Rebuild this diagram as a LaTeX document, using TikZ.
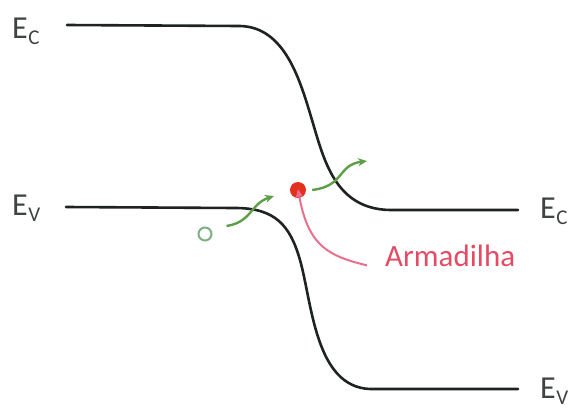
\documentclass[tikz,border=0pt]{standalone}
\usepackage{fontspec}
\setmainfont{Carlito}
\usetikzlibrary{arrows.meta}
\definecolor{bandc}{HTML}{1E2222}
\definecolor{grn}{HTML}{5E9E48}
\definecolor{grnc}{HTML}{7DB083}
\definecolor{trapred}{HTML}{E2321E}
\definecolor{pinkarr}{HTML}{E8708C}
\definecolor{pinktxt}{HTML}{E44C66}
\newcommand{\bandlbl}[1]{E\kern0.5pt\raisebox{-6pt}{\fontsize{21}{21}\selectfont #1}}
\tikzset{
  band/.style={draw=bandc, line width=2.6pt, line cap=round},
  elbl/.style={anchor=base west, inner sep=0pt, text=bandc!85, font=\fontsize{32}{32}\selectfont},
  grarrow/.style={draw=grn, line width=2.4pt, -{Stealth[length=9pt,width=8pt]}},
  pkarrow/.style={draw=pinkarr, line width=2pt, -{Stealth[length=9pt,width=8pt]}}
}
\begin{document}
\begin{tikzpicture}[x=1pt,y=-1pt]
\useasboundingbox (0,0) rectangle (574,410);
% bands
\draw[band] (67,25) -- (240,26) .. controls (285,27) and (300,80) .. (312,120)
  .. controls (324,160) and (335,209) .. (390,210) -- (518,210);
\draw[band] (66,207) -- (235,208) .. controls (275,208) and (290,225) .. (300,260)
  .. controls (312,302) and (315,387) .. (370,389) -- (518,389);
% labels
\node[elbl] (ecl) at (12,38) {\bandlbl{C}};
\node[elbl] (evl) at (12,215) {\bandlbl{V}};
\node[elbl] (ecr) at (540,218) {\bandlbl{C}};
\node[elbl] (evr) at (540,398) {\bandlbl{V}};
% hole and trap
\node[circle, draw=grnc, line width=2pt, minimum size=13pt, inner sep=0pt] (hole) at (205,234) {};
\node[circle, fill=trapred, minimum size=16pt, inner sep=0pt] (trap) at (298,190) {};
\coordinate (g1) at (274,196);
\coordinate (g2) at (367,161);
\draw[grarrow] ([xshift=14pt,yshift=8pt]hole.east) .. controls (252,222) and (250,204) .. (g1);
\draw[grarrow] ([xshift=6pt]trap.east) .. controls (345,186) and (337,165) .. (g2);
% label
\node[anchor=base west, inner sep=0pt, text=pinktxt, font=\fontsize{31}{31}\selectfont] (arm) at (385,266) {Armadilha};
\draw[pkarrow] ([xshift=-18pt,yshift=-10pt]arm.west) .. controls (328,256) and (308,246) .. ([yshift=9pt]trap.south);
\end{tikzpicture}
\end{document}
